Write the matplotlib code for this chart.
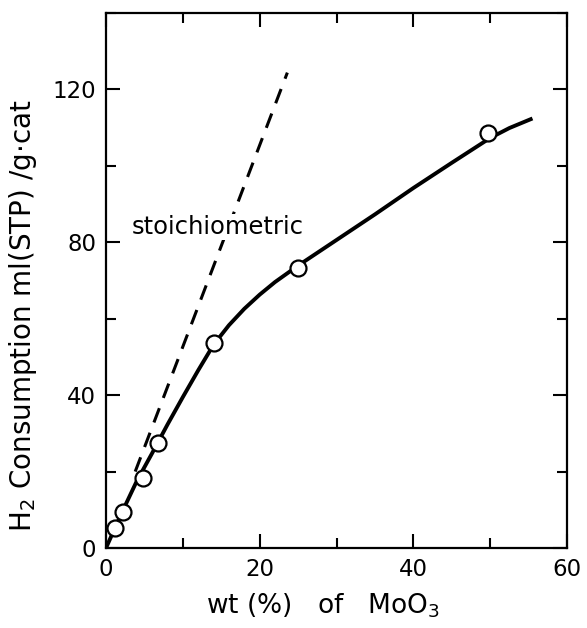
import matplotlib
matplotlib.use("Agg")
import matplotlib.pyplot as plt
from matplotlib.ticker import MultipleLocator

plt.rcParams['font.family'] = ['DejaVu Sans']
plt.rcParams['mathtext.default'] = 'regular'

# measured points: wt% MoO3 vs H2 consumption
wt_moo3 = [1.2, 2.2, 4.8, 6.8, 14.0, 25.0, 49.7]
h2_uptake = [5.2, 9.4, 18.3, 27.5, 53.7, 73.4, 108.7]

# hand-drawn trend curve
curve_x = [0, 2, 4, 6, 8, 10, 12, 14, 16, 18, 20, 22, 25, 30, 35, 40, 45, 48, 50, 52.5, 55.5]
curve_y = [0, 9.0, 17.5, 24.8, 32.3, 39.5, 46.5, 53.2, 58.3, 62.6, 66.3, 69.6, 73.9,
           80.6, 87.3, 94.2, 100.8, 104.7, 107.3, 109.9, 112.4]

# stoichiometric line
stoich_x = [3.8, 23.6]
stoich_y = [20.0, 124.4]

fig = plt.figure(figsize=(5.87, 6.28), dpi=100)
ax = fig.add_axes([0.1806, 0.1274, 0.7854, 0.8519])

ax.plot(curve_x, curve_y, color='black', lw=2.8, solid_capstyle='butt', zorder=2)
ax.plot(stoich_x, stoich_y, color='black', lw=2.2, dashes=(5, 3.6), zorder=2)
ax.plot(wt_moo3, h2_uptake, 'o', ms=11.5, mfc='white', mec='black', mew=1.6, zorder=3)

ax.text(3.3, 84, 'stoichiometric', fontsize=17.5, va='center', ha='left', zorder=4,
        bbox=dict(facecolor='white', edgecolor='none', pad=0.5))

ax.set_xlim(0, 60)
ax.set_ylim(0, 140)
ax.xaxis.set_major_locator(MultipleLocator(20))
ax.xaxis.set_minor_locator(MultipleLocator(10))
ax.yaxis.set_major_locator(MultipleLocator(40))
ax.yaxis.set_minor_locator(MultipleLocator(20))
ax.tick_params(which='both', direction='in', top=True, right=True, width=1.5)
ax.tick_params(which='major', length=10, labelsize=16.5, pad=7)
ax.tick_params(which='minor', length=7)
for s in ax.spines.values():
    s.set_linewidth(1.6)

ax.set_xlabel('wt (%)   of   MoO$_3$', fontsize=19)
ax.xaxis.set_label_coords(0.471, -0.082)
ax.set_ylabel('H$_2$ Consumption ml(STP) /g$\\cdot$cat', fontsize=20)
ax.yaxis.set_label_coords(-0.146, 0.434)

plt.savefig('out.png', dpi=100)
